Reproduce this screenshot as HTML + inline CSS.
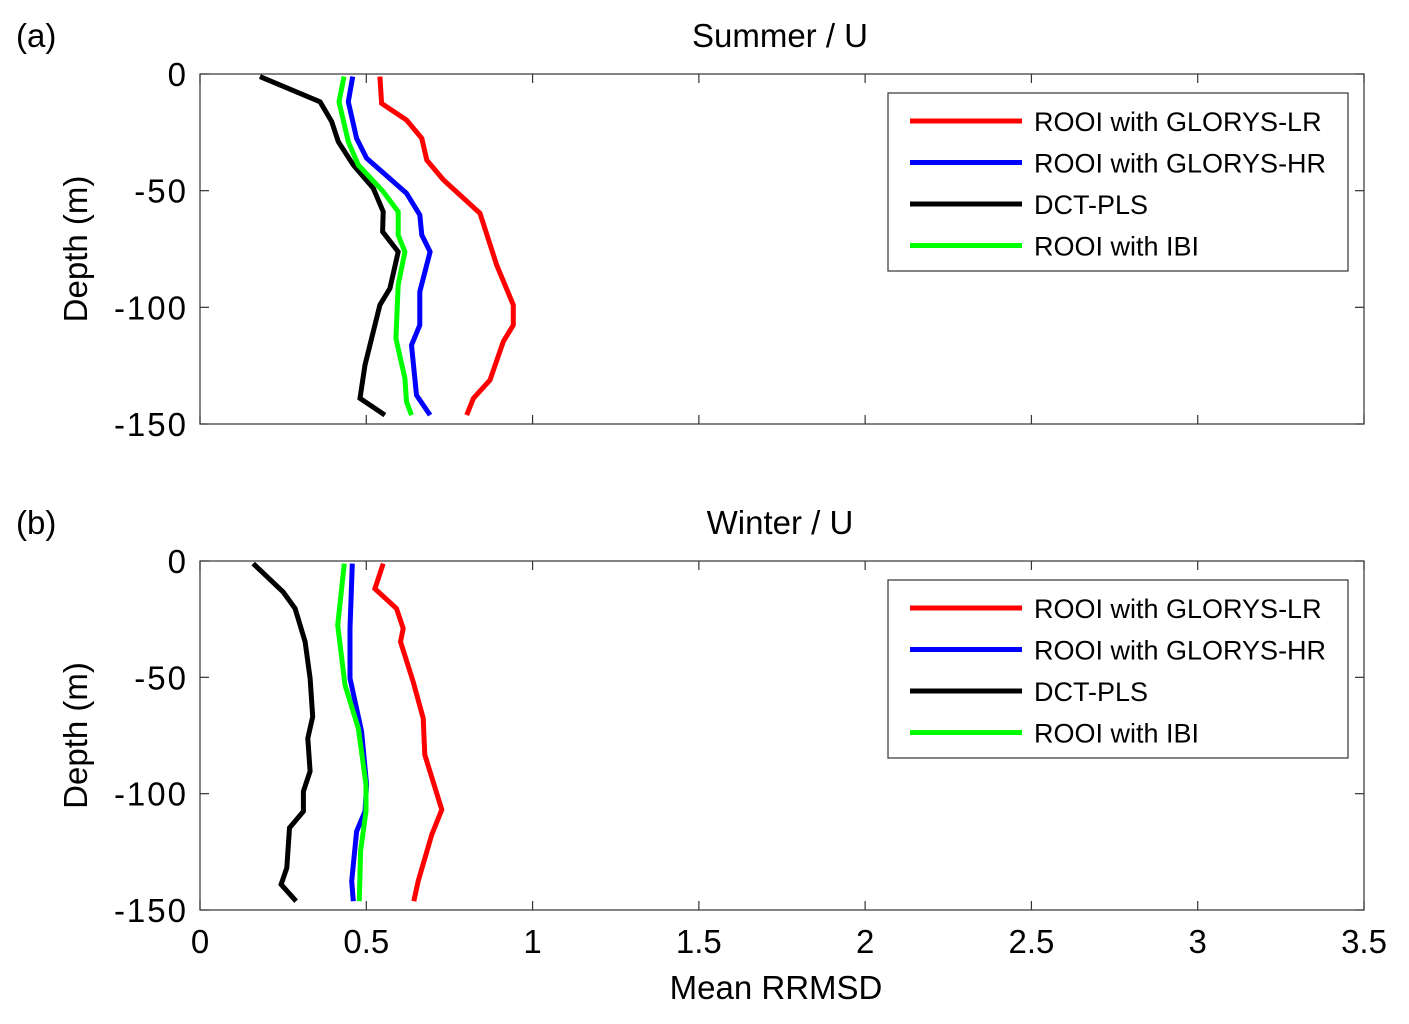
<!DOCTYPE html>
<html><head><meta charset="utf-8"><style>
body{margin:0;background:#fff;}
svg text{font-family:"Liberation Sans",sans-serif;fill:#000;}
</style></head><body>
<svg id="chart" width="1409" height="1019" xmlns="http://www.w3.org/2000/svg"></svg>
<script>
const seriesNames = ["ROOI with GLORYS-LR","ROOI with GLORYS-HR","DCT-PLS","ROOI with IBI"];
const seriesColors = ["#ff0000","#0000ff","#000000","#00ff00"];
const xTicks = [0,0.5,1,1.5,2,2.5,3,3.5];
const yTicks = [0,-50,-100,-150];
// Summer (a)
const aLRx=[0.541,0.546,0.621,0.667,0.682,0.732,0.842,0.892,0.942,0.942,0.912,0.872,0.822,0.802];
const aLRd=[-1.1,-12.6,-19.7,-27.6,-36.9,-45.4,-59.7,-81.9,-99,-107.6,-114.7,-131.2,-139,-146.2];
const aHRx=[0.459,0.446,0.471,0.501,0.621,0.661,0.667,0.692,0.661,0.661,0.636,0.651,0.692];
const aHRd=[-1.1,-11.9,-27.6,-36.1,-51.1,-60.4,-69,-76.2,-93.3,-107.6,-116.2,-137.6,-146.2];
const aDCTx=[0.180,0.361,0.396,0.416,0.461,0.521,0.551,0.549,0.596,0.571,0.541,0.496,0.481,0.556];
const aDCTd=[-1.1,-11.9,-20.4,-29,-39,-49,-59,-67.6,-76.2,-91.9,-99,-124.7,-139,-146.2];
const aIBIx=[0.433,0.418,0.446,0.476,0.551,0.596,0.596,0.616,0.596,0.589,0.616,0.621,0.636];
const aIBId=[-1.1,-11.9,-29,-39,-50.4,-59,-69,-76.2,-90.4,-113.3,-130.4,-140.4,-146.2];
// Winter (b)
const bLRx=[0.551,0.526,0.591,0.611,0.603,0.641,0.671,0.676,0.727,0.697,0.656,0.643];
const bLRd=[-1.1,-11.9,-20.4,-29,-34.7,-51.9,-67.6,-83.3,-106.9,-117.6,-137.6,-146.2];
const bHRx=[0.458,0.451,0.451,0.486,0.501,0.496,0.471,0.456,0.461];
const bHRd=[-1.1,-29,-50.4,-73.3,-96.1,-107.6,-116.2,-137.6,-146.2];
const bDCTx=[0.160,0.250,0.286,0.316,0.331,0.339,0.324,0.331,0.311,0.311,0.269,0.261,0.244,0.289];
const bDCTd=[-1.1,-13.3,-20.4,-34.7,-50.4,-66.9,-76.2,-90.4,-99,-107.6,-114.7,-131.9,-139,-146.2];
const bIBIx=[0.434,0.414,0.436,0.476,0.499,0.499,0.483,0.479];
const bIBId=[-1.1,-27.6,-53.3,-71.9,-96.1,-107.6,-124.7,-146.2];

const NS="http://www.w3.org/2000/svg";
const svg=document.getElementById('chart');
function mk(tag,attrs,parent){const e=document.createElementNS(NS,tag);for(const k in attrs)e.setAttribute(k,attrs[k]);(parent||svg).appendChild(e);return e;}
const X0=200,X1=1364;
const xScale=v=>X0+(v/3.5)*(X1-X0);

function panel(key,top,bot,title,label,data){
  const yScale=d=>top+(-d/150)*(bot-top);
  const g=mk('g',{});
  
  
  const frame=mk('rect',{x:X0,y:top,width:X1-X0,height:bot-top,fill:'none',stroke:'#333','stroke-width':1.2},g);
  
  
  xTicks.forEach(t=>{const x=xScale(t);
    mk('line',{x1:x,y1:top,x2:x,y2:top+9,stroke:'#333','stroke-width':1.2},g);
    mk('line',{x1:x,y1:bot,x2:x,y2:bot-9,stroke:'#333','stroke-width':1.2},g);});
  yTicks.forEach(t=>{const y=yScale(t);
    mk('line',{x1:X0,y1:y,x2:X0+9,y2:y,stroke:'#333','stroke-width':1.2},g);
    mk('line',{x1:X1,y1:y,x2:X1-9,y2:y,stroke:'#333','stroke-width':1.2},g);
    const tx=mk('text',{x:188,y:y+12,'text-anchor':'end','font-size':33,'letter-spacing':2},g);
    tx.textContent=String(t);
    
    });
  const tt=mk('text',{x:780,y:top-27,'text-anchor':'middle','font-size':33},g);
  tt.textContent=title;
  
  
  const pl=mk('text',{x:16,y:top-27,'font-size':33},g);
  pl.textContent=label;
  
  
  const yl=mk('text',{x:0,y:0,'text-anchor':'middle','font-size':33,transform:`translate(87,${(top+bot)/2}) rotate(-90)`},g);
  yl.textContent='Depth (m)';
  
  
  data.forEach((s,i)=>{
    const pts=s[0].map((v,j)=>xScale(v).toFixed(1)+','+yScale(s[1][j]).toFixed(1)).join(' ');
    const p=mk('polyline',{points:pts,fill:'none',stroke:seriesColors[i],'stroke-width':5,'stroke-linejoin':'miter'},g);
    
    
  });
  const ly=top+19;
  const lg=mk('g',{},g);
  
  
  mk('rect',{x:888,y:ly,width:460,height:178,fill:'#fff',stroke:'#333','stroke-width':1.2},lg);
  seriesNames.forEach((n,i)=>{const y=ly+28+i*41.5;
    const ln=mk('line',{x1:910,y1:y,x2:1022,y2:y,stroke:seriesColors[i],'stroke-width':5},lg);
    
    
    const t=mk('text',{x:1034,y:y+10,'font-size':27},lg);
    t.textContent=n;
    
    });
}
panel('a',74,424,'Summer / U','(a)',[[aLRx,aLRd],[aHRx,aHRd],[aDCTx,aDCTd],[aIBIx,aIBId]]);
panel('b',561,910,'Winter / U','(b)',[[bLRx,bLRd],[bHRx,bHRd],[bDCTx,bDCTd],[bIBIx,bIBId]]);
xTicks.forEach(t=>{const tx=mk('text',{x:xScale(t),y:953,'text-anchor':'middle','font-size':33});
  tx.textContent=String(t);
  
  });
const xl=mk('text',{x:776,y:999,'text-anchor':'middle','font-size':33});
xl.textContent='Mean RRMSD';


</script>
</body></html>
